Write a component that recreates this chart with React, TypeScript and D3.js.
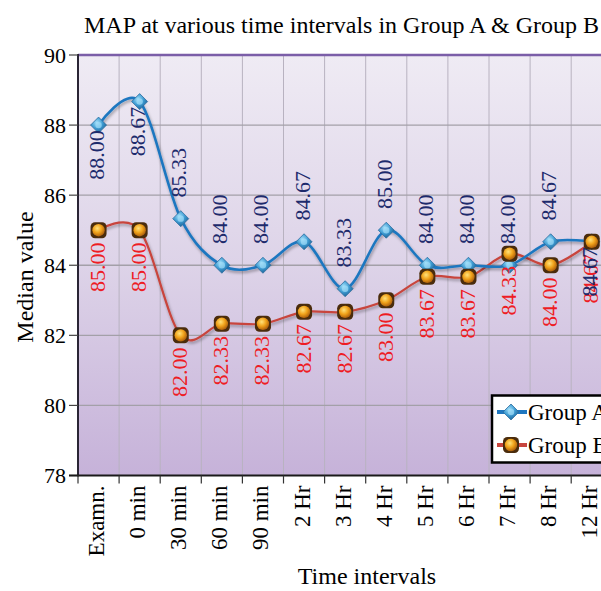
import React from "react";
import * as d3 from "d3";

const categories = ["Examn.", "0 min", "30 min", "60 min", "90 min", "2 Hr", "3 Hr", "4 Hr", "5 Hr", "6 Hr", "7 Hr", "8 Hr", "12 Hr"];
const groupA = [88.0, 88.67, 85.33, 84.0, 84.0, 84.67, 83.33, 85.0, 84.0, 84.0, 84.0, 84.67, 84.67];
const groupB = [85.0, 85.0, 82.0, 82.33, 82.33, 82.67, 82.67, 83.0, 83.67, 83.67, 84.33, 84.0, 84.67];
const yTicks = [78, 80, 82, 84, 86, 88, 90];
// Group A labels that sit under their point instead of above
const belowA = [0, 1, 12];

const W = 601;
const H = 591;
const FONT = "'Liberation Serif', 'Times New Roman', serif";

export default function App() {
  const m = { left: 78, top: 55, bottom: 475.5 };
  const step = 41.1;

  const x = d3
    .scaleBand<string>()
    .domain(categories)
    .range([m.left, m.left + step * categories.length])
    .padding(0);
  const cx = (i: number) => (x(categories[i]) as number) + x.bandwidth() / 2;
  const y = d3.scaleLinear().domain([78, 90]).range([m.bottom, m.top]);

  const line = d3
    .line<number>()
    .x((_, i) => cx(i))
    .y((d) => y(d))
    .curve(d3.curveCardinal.tension(0));

  const fmt = d3.format(".2f");

  // grid boundaries between categories
  const bounds = categories.map((c) => x(c) as number).concat([m.left + step * categories.length]);

  const markerA = (px: number, py: number, key: string) => (
    <g key={key} transform={`translate(${px},${py})`}>
      <path d="M0,-8 L8,0 L0,8 L-8,0 Z" fill="url(#gA)" stroke="#2f6f9f" strokeWidth={0.8} />
      <circle r={3.2} fill="#9fdcf7" opacity={0.7} />
    </g>
  );
  const markerB = (px: number, py: number, key: string) => (
    <g key={key} transform={`translate(${px},${py})`}>
      <rect x={-8} y={-8} width={16} height={16} rx={4.5} fill="#4a2c0c" />
      <circle r={6.2} fill="url(#gB)" />
    </g>
  );

  return (
    <svg
      width={W}
      height={H}
      style={{ position: "absolute", left: 0, top: 0, background: "#fff" }}
      fontFamily={FONT}
    >
      <defs>
        <linearGradient id="bg" x1="0" y1="0" x2="0" y2="1">
          <stop offset="0" stopColor="#efebf4" />
          <stop offset="0.5" stopColor="#ddd3e8" />
          <stop offset="1" stopColor="#c6b2d9" />
        </linearGradient>
        <radialGradient id="gA" cx="0.4" cy="0.35" r="0.7">
          <stop offset="0" stopColor="#a6e2fb" />
          <stop offset="0.5" stopColor="#3d9bd2" />
          <stop offset="1" stopColor="#1c5f92" />
        </radialGradient>
        <radialGradient id="gB" cx="0.4" cy="0.35" r="0.7">
          <stop offset="0" stopColor="#ffe27a" />
          <stop offset="0.5" stopColor="#f0a21a" />
          <stop offset="1" stopColor="#a4560a" />
        </radialGradient>
        <filter id="shadow" x="-10%" y="-10%" width="120%" height="130%">
          <feDropShadow dx="1" dy="2" stdDeviation="1.5" floodColor="#000" floodOpacity="0.35" />
        </filter>
      </defs>

      {/* Title */}
      <text x={84} y={33} fontSize={24} fill="#000">
        MAP at various time intervals in Group A &amp; Group B
      </text>

      {/* Plot background */}
      <rect x={m.left} y={m.top} width={W - m.left} height={m.bottom - m.top} fill="url(#bg)" />

      {/* Vertical grid */}
      {bounds.slice(1).map((bx, i) => (
        <line key={`vg${i}`} x1={bx} x2={bx} y1={m.top} y2={m.bottom} stroke="#b8b2c0" strokeWidth={1} />
      ))}
      {/* Horizontal grid */}
      {yTicks.slice(1, -1).map((t) => (
        <line key={`hg${t}`} x1={m.left} x2={W} y1={y(t)} y2={y(t)} stroke="#a3a0a8" strokeWidth={1.4} />
      ))}

      {/* Top border */}
      <line x1={m.left} x2={W} y1={m.top} y2={m.top} stroke="#7b5ea8" strokeWidth={2.5} />

      {/* Y axis */}
      <line x1={m.left} x2={m.left} y1={m.top - 1} y2={m.bottom + 1} stroke="#2a2535" strokeWidth={2} />
      {yTicks.map((t) => (
        <g key={`yt${t}`}>
          <line x1={m.left - 9} x2={m.left} y1={y(t)} y2={y(t)} stroke="#444" strokeWidth={1.2} />
          <text x={m.left - 12} y={y(t)} textAnchor="end" dominantBaseline="central" fontSize={22} fill="#000">
            {t}
          </text>
        </g>
      ))}

      {/* X axis */}
      <line x1={m.left - 9} x2={W} y1={m.bottom} y2={m.bottom} stroke="#1a1a1a" strokeWidth={2} />
      {bounds.map((bx, i) => (
        <line key={`xt${i}`} x1={bx} x2={bx} y1={m.bottom} y2={m.bottom + 8} stroke="#333" strokeWidth={1.2} />
      ))}
      {categories.map((c, i) => (
        <text
          key={`xl${c}`}
          transform={`translate(${cx(i) - 2},${m.bottom + 10}) rotate(-90)`}
          textAnchor="end"
          dominantBaseline="central"
          fontSize={23}
          fill="#000"
        >
          {c}
        </text>
      ))}

      {/* Axis titles */}
      <text x={367} y={590} textAnchor="middle" fontSize={24} fill="#000" dy="-0.25em">
        Time intervals
      </text>
      <text
        transform={`translate(25,277) rotate(-90)`}
        textAnchor="middle"
        dominantBaseline="central"
        fontSize={24}
        fill="#000"
      >
        Median value
      </text>

      {/* Series lines */}
      <path d={line(groupB) || ""} fill="none" stroke="#c8453d" strokeWidth={2.2} filter="url(#shadow)" />
      <path d={line(groupA) || ""} fill="none" stroke="#1f77c0" strokeWidth={2.6} filter="url(#shadow)" />

      {/* Markers */}
      {groupA.map((v, i) => markerA(cx(i), y(v), `ma${i}`))}
      {groupB.map((v, i) => markerB(cx(i), y(v), `mb${i}`))}

      {/* Data labels */}
      {groupB.map((v, i) => (
        <text
          key={`lb${i}`}
          transform={`translate(${cx(i) - 1},${y(v) + 37}) rotate(-90)`}
          textAnchor="middle"
          dominantBaseline="central"
          fontSize={22}
          fill="#ee1c24"
        >
          {fmt(v)}
        </text>
      ))}
      {groupA.map((v, i) => (
        <text
          key={`la${i}`}
          transform={`translate(${cx(i) - 2},${belowA.includes(i) ? y(v) + 30 : y(v) - 46}) rotate(-90)`}
          textAnchor="middle"
          dominantBaseline="central"
          fontSize={22}
          fill="#1d2a6c"
        >
          {fmt(v)}
        </text>
      ))}

      {/* Legend */}
      <g>
        <rect x={492} y={395.5} width={130} height={67} fill="#fff" stroke="#000" strokeWidth={2.5} />
        <line x1={497} x2={527} y1={412} y2={412} stroke="#1f77c0" strokeWidth={4} />
        {markerA(511, 412, "lgA")}
        <text x={528} y={420} fontSize={23} fill="#000">Group A</text>
        <line x1={497} x2={527} y1={445} y2={445} stroke="#c8453d" strokeWidth={4} />
        {markerB(511, 445, "lgB")}
        <text x={528} y={453} fontSize={23} fill="#000">Group B</text>
      </g>
    </svg>
  );
}
